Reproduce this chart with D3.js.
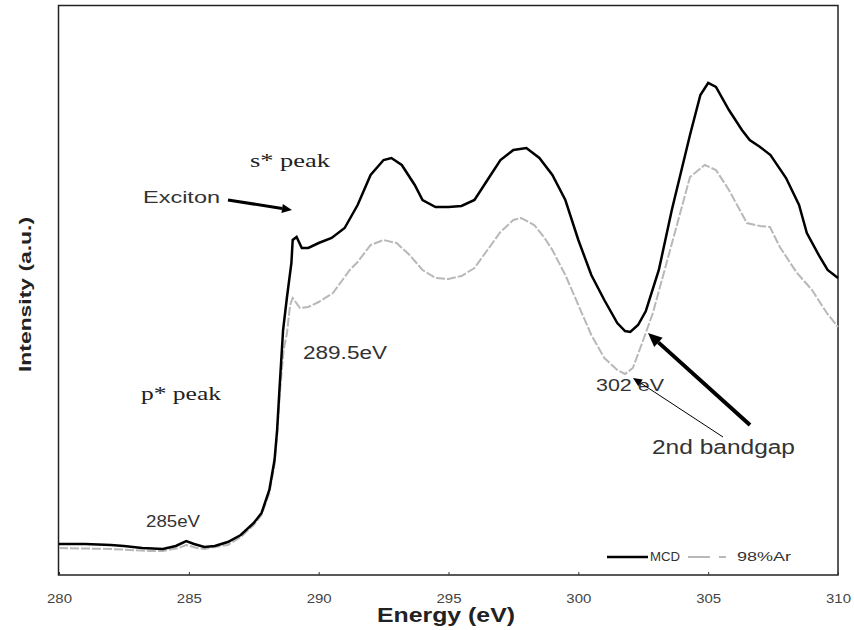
<!DOCTYPE html>
<html>
<head>
<meta charset="UTF-8">
<script src="https://d3js.org/d3.v7.min.js"></script>
<style>
	body { margin: 0; background: #fff; }
	text { font-family: Arial, "Liberation Sans", sans-serif; }
	.serif { font-family: "Times New Roman", "Liberation Serif", serif; }
</style>
</head>
<body>
<div id="chart"></div>
<script>
	// energy (eV) / intensity (a.u.)
	let mcdEnergy = [280.0, 281.0, 282.0, 282.5, 283.2, 284.0, 284.5, 284.9, 285.2, 285.6, 286.0, 286.5, 287.0, 287.5, 287.8, 288.1, 288.3, 288.4, 288.5, 288.63, 288.78, 288.95, 289.0, 289.15, 289.35, 289.6, 290.0, 290.5, 291.0, 291.5, 292.0, 292.5, 292.8, 293.2, 293.7, 294.0, 294.5, 295.0, 295.5, 296.0, 296.5, 297.0, 297.5, 298.0, 298.5, 299.0, 299.5, 300.0, 300.5, 301.0, 301.5, 301.8, 302.0, 302.3, 302.6, 303.1, 303.6, 304.3, 304.7, 305.0, 305.3, 305.8, 306.3, 306.6, 307.0, 307.4, 308.0, 308.5, 308.8, 309.3, 309.6, 310.0];
	let mcdIntensity = [31, 31, 30, 29, 27, 26, 29, 34, 31, 28, 29, 33, 40, 52, 62, 85, 115, 145, 190, 245, 278, 312, 335, 338, 327, 327, 332, 337, 347, 370, 400, 415, 417, 410, 390, 375, 368, 368, 369, 375, 395, 415, 425, 427, 417, 400, 375, 335, 300, 275, 252, 244, 243, 250, 264, 305, 365, 440, 480, 492, 488, 465, 445, 435, 428, 420, 397, 370, 342, 318, 305, 297];

	let arEnergy = [280.0, 282.0, 283.5, 284.0, 284.6, 284.9, 285.3, 285.6, 286.0, 286.5, 287.0, 287.5, 287.8, 288.1, 288.3, 288.4, 288.5, 288.65, 288.78, 288.9, 289.0, 289.28, 289.6, 290.0, 290.55, 291.2, 291.5, 292.0, 292.5, 293.0, 293.5, 294.0, 294.5, 295.0, 295.5, 296.0, 296.5, 297.0, 297.5, 297.8, 298.3, 298.7, 299.0, 299.5, 300.0, 300.5, 301.0, 301.5, 301.8, 302.1, 302.5, 302.87, 303.64, 304.3, 304.87, 305.3, 305.8, 306.49, 307.0, 307.38, 307.76, 308.42, 309.0, 309.57, 310.0];
	let arIntensity = [27, 26, 24, 24, 27, 30, 27, 26, 28, 30, 38, 50, 60, 82, 110, 140, 180, 225, 242, 270, 277, 267, 268, 273, 282, 305, 313, 330, 335, 332, 320, 305, 297, 296, 299, 307, 325, 343, 355, 357, 350, 337, 325, 300, 270, 240, 217, 205, 201, 207, 235, 262, 335, 398, 410, 405, 385, 352, 349, 348, 328, 302, 285, 262, 248];

	let xTicks = [280, 285, 290, 295, 300, 305, 310];
	let seriesNames = ["MCD", "98%Ar"];

	let width = 854, height = 630;
	let svg = d3.select("#chart").append("svg")
		.attr("width", width)
		.attr("height", height);

	let x = d3.scaleLinear().domain([280, 310]).range([59, 838]);
	let y = d3.scaleLinear().domain([0, 570]).range([575, 5]);

	// frame
	svg.append("rect")
		.attr("x", 58.5).attr("y", 5.5)
		.attr("width", 779.5).attr("height", 569.5)
		.attr("fill", "none")
		.attr("stroke", "#222")
		.attr("stroke-width", 1.5);

	// x axis with small inward ticks
	let xAxis = d3.axisBottom(x).tickValues(xTicks).tickSize(-3).tickPadding(19);
	let gx = svg.append("g")
		.attr("transform", "translate(0,575)")
		.call(xAxis);
	gx.select(".domain").remove();
	gx.selectAll(".tick line").attr("stroke", "#333");
	gx.selectAll(".tick text")
		.attr("fill", "#444")
		.attr("font-size", 12)
		.attr("textLength", 25)
		.attr("lengthAdjust", "spacingAndGlyphs")
		.style("font-family", "Arial, 'Liberation Sans', sans-serif");

	let line = d3.line()
		.x(d => x(d[0]))
		.y(d => y(d[1]));

	let arData = arEnergy.map((e, i) => [e, arIntensity[i]]);
	let mcdData = mcdEnergy.map((e, i) => [e, mcdIntensity[i]]);

	svg.append("path")
		.datum(arData)
		.attr("d", line)
		.attr("fill", "none")
		.attr("stroke", "#b8b8b8")
		.attr("stroke-width", 2)
		.attr("stroke-dasharray", "9,2");

	svg.append("path")
		.datum(mcdData)
		.attr("d", line)
		.attr("fill", "none")
		.attr("stroke", "#000")
		.attr("stroke-width", 2.5);

	// axis titles
	svg.append("text")
		.attr("x", 377).attr("y", 622)
		.attr("font-size", 20)
		.attr("font-weight", "bold")
		.attr("fill", "#222")
		.attr("textLength", 138)
		.attr("lengthAdjust", "spacingAndGlyphs")
		.text("Energy (eV)");

	svg.append("text")
		.attr("transform", "translate(31,372) rotate(-90)")
		.attr("font-size", 17)
		.attr("font-weight", "bold")
		.attr("fill", "#222")
		.attr("textLength", 155)
		.attr("lengthAdjust", "spacingAndGlyphs")
		.text("Intensity (a.u.)");

	// legend
	let lg = svg.append("g");
	lg.append("line").attr("x1", 607).attr("x2", 648).attr("y1", 557).attr("y2", 557)
		.attr("stroke", "#000").attr("stroke-width", 2.5);
	lg.append("text").attr("x", 650).attr("y", 561).attr("font-size", 12)
		.attr("textLength", 30).attr("lengthAdjust", "spacingAndGlyphs")
		.attr("fill", "#333").text(seriesNames[0]);
	lg.append("line").attr("x1", 688).attr("x2", 726).attr("y1", 557).attr("y2", 557)
		.attr("stroke", "#b8b8b8").attr("stroke-width", 2).attr("stroke-dasharray", "22,9");
	lg.append("text").attr("x", 737).attr("y", 561).attr("font-size", 12)
		.attr("textLength", 54).attr("lengthAdjust", "spacingAndGlyphs")
		.attr("fill", "#333").text(seriesNames[1]);

	// annotations
	function label(tx, ty, size, len, str, serif) {
		svg.append("text")
			.attr("class", serif ? "serif" : null)
			.attr("x", tx).attr("y", ty)
			.attr("font-size", size)
			.attr("fill", serif ? "#222" : "#333")
			.attr("textLength", len)
			.attr("lengthAdjust", "spacingAndGlyphs")
			.text(str);
	}
	label(250, 167, 19, 80, "s*  peak", true);
	label(141, 400, 19, 80, "p* peak", true);
	label(143, 203, 16, 77, "Exciton");
	label(303, 359, 18, 84, "289.5eV");
	label(146, 527, 17, 54, "285eV");
	label(596, 391, 17, 68, "302 eV");
	label(652, 454, 20, 143, "2nd bandgap");

	function arrow(x1, y1, x2, y2, w, head) {
		let a = Math.atan2(y2 - y1, x2 - x1);
		let bx = x2 - Math.cos(a) * head, by = y2 - Math.sin(a) * head;
		svg.append("line")
			.attr("x1", x1).attr("y1", y1).attr("x2", bx).attr("y2", by)
			.attr("stroke", "#000").attr("stroke-width", w);
		let hw = head * 0.45;
		let pts = [
			[x2, y2],
			[bx + Math.sin(a) * hw, by - Math.cos(a) * hw],
			[bx - Math.sin(a) * hw, by + Math.cos(a) * hw]
		];
		svg.append("polygon")
			.attr("points", pts.map(p => p.join(",")).join(" "))
			.attr("fill", "#000");
	}
	arrow(228, 200, 292, 210, 3, 10);
	arrow(750, 425, 648, 333, 4, 14);
	arrow(723, 437, 633, 378, 1, 9);
</script>
</body>
</html>
